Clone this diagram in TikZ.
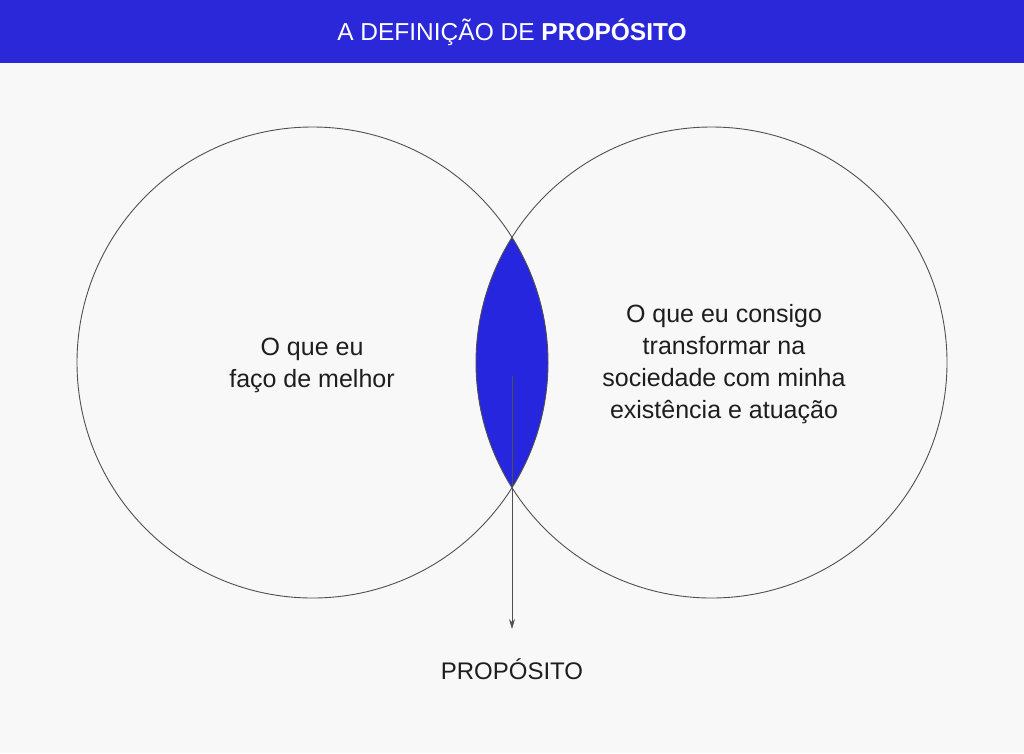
\documentclass[tikz,border=0pt]{standalone}
\usepackage{fontspec}
\setmainfont{Liberation Sans}
\usepackage{tikz}
\usetikzlibrary{positioning,arrows,arrows.meta}
\definecolor{barblue}{RGB}{42,40,216}
\definecolor{lensblue}{RGB}{38,38,222}
\definecolor{paper}{RGB}{248,248,248}
\definecolor{ink}{RGB}{30,30,30}
\definecolor{rim}{RGB}{80,80,80}

\begin{document}
\begin{tikzpicture}[x=1pt,y=-1pt,>={Stealth[length=10pt,width=6pt]},
		ring/.style={circle,draw=rim,line width=.9pt,minimum size=471pt,inner sep=0pt},
		body/.style={align=center,text=ink,font=\fontsize{25}{32}\selectfont}]
		% background and title bar
		\fill[paper] (0,0) rectangle (1024,753);
		\useasboundingbox (0,0) rectangle (1024,753);
		\fill[barblue] (0,0) rectangle (1024,63);
		\node[text=white,font=\fontsize{24.5}{28}\selectfont] (title) at (512,32)
			{A DEFINIÇÃO DE \textbf{PROPÓSITO}};
		% the two circles
		\coordinate (cl) at (312.5,362.5);
		\coordinate (cr) at (711.5,362.5);
		\begin{scope}
			\clip (cl) circle (235.5);
			\fill[lensblue] (cr) circle (235.5);
		\end{scope}
		\node[ring] (left) at (cl) {};
		\node[ring] (right) at (cr) {};
		% texts
		\node[body] (doing) at (312,365) {O que eu\\faço de melhor};
		\node[body] (change) at (724,364) {O que eu consigo\\transformar na\\sociedade com minha\\existência e atuação};
		\node[text=ink,font=\fontsize{24}{28}\selectfont] (prop) at (512,669) {PROPÓSITO};
		% arrow
		\coordinate (arrstart) at (512,376);
		\coordinate (arrend) at (512,629);
		\draw[->,draw=rim,line width=.9pt] (arrstart) -- (arrend);
	\end{tikzpicture}
\end{document}
